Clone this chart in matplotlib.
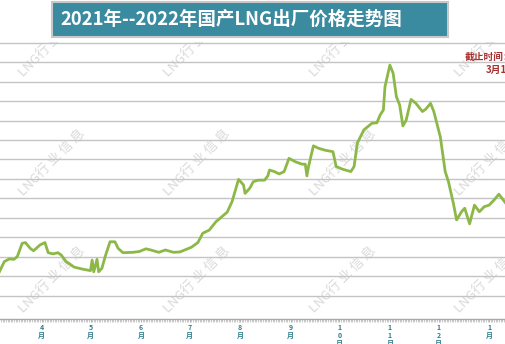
import numpy as np
import matplotlib
matplotlib.use("Agg")
import matplotlib.pyplot as plt
import matplotlib.dates as mdates
from matplotlib.patches import Rectangle

plt.rcParams['font.family'] = ['Noto Sans CJK SC', 'DejaVu Sans']

# LNG ex-factory price (yuan/ton)
dates = ["2021-03-06", "2021-03-09", "2021-03-12", "2021-03-15", "2021-03-17", "2021-03-20",
         "2021-03-22", "2021-03-25", "2021-03-27", "2021-03-31", "2021-04-03", "2021-04-05",
         "2021-04-08", "2021-04-11", "2021-04-13", "2021-04-16", "2021-04-21", "2021-04-26",
         "2021-05-01", "2021-05-02", "2021-05-03", "2021-05-05", "2021-05-06", "2021-05-08",
         "2021-05-10", "2021-05-13", "2021-05-16", "2021-05-18", "2021-05-21", "2021-05-27",
         "2021-05-31", "2021-06-04", "2021-06-07", "2021-06-12", "2021-06-16", "2021-06-21",
         "2021-06-25", "2021-07-02", "2021-07-06", "2021-07-09", "2021-07-13", "2021-07-17",
         "2021-07-24", "2021-07-27", "2021-07-31", "2021-08-03", "2021-08-04", "2021-08-07",
         "2021-08-09", "2021-08-12", "2021-08-16", "2021-08-18", "2021-08-19", "2021-08-22",
         "2021-08-25", "2021-08-28", "2021-08-31", "2021-09-04", "2021-09-08", "2021-09-10",
         "2021-09-11", "2021-09-12", "2021-09-15", "2021-09-18", "2021-09-22", "2021-09-27",
         "2021-09-29", "2021-10-03", "2021-10-08", "2021-10-10", "2021-10-12", "2021-10-16",
         "2021-10-21", "2021-10-24", "2021-10-26", "2021-10-28", "2021-10-29", "2021-11-01",
         "2021-11-03", "2021-11-05", "2021-11-07", "2021-11-09", "2021-11-11", "2021-11-14",
         "2021-11-17", "2021-11-21", "2021-11-23", "2021-11-26", "2021-11-28", "2021-12-02",
         "2021-12-05", "2021-12-07", "2021-12-10", "2021-12-12", "2021-12-15", "2021-12-17",
         "2021-12-20", "2021-12-23", "2021-12-26", "2021-12-29", "2022-01-01", "2022-01-04",
         "2022-01-07", "2022-01-11"]
prices = [3620, 3880, 3950, 3940, 4010, 4350,
          4370, 4220, 4160, 4310, 4370, 4110,
          4080, 4110, 4050, 3880, 3740, 3690,
          3650, 3920, 3620, 3940, 3620, 3710,
          4010, 4390, 4390, 4220, 4110, 4120,
          4140, 4210, 4180, 4120, 4180, 4120,
          4130, 4250, 4370, 4610, 4690, 4900,
          5150, 5420, 5990, 5850, 5630, 5770,
          5930, 5970, 5970, 6080, 6230, 6190,
          6130, 6190, 6530, 6440, 6380, 6380,
          6080, 6320, 6850, 6790, 6740, 6700,
          6320, 6250, 6190, 6320, 6920, 7260,
          7430, 7440, 7640, 7770, 8370, 8920,
          8710, 8110, 7900, 7360, 7510, 8040,
          7940, 7730, 7790, 7940, 7730, 7080,
          6190, 5930, 5380, 4950, 5160, 5250,
          4850, 5330, 5160, 5290, 5330, 5460,
          5610, 5390]
grid_levels = np.arange(3000, 10000, 500)

title = "2021年--2022年国产LNG出厂价格走势图"
watermark = "LNG行 业 信 息"

x = np.array(dates, dtype="datetime64[D]")

fig = plt.figure(figsize=(5.05, 3.44), dpi=100)
ax = fig.add_axes([0, 25 / 344, 1, 277 / 344])

# watermarks behind everything
for wy in [300, 181, 64]:
    for wx in [52, 197, 343, 488]:
        ax.text(wx / 505, wy / 344, watermark, transform=fig.transFigure, rotation=45,
                ha='center', va='center', fontsize=9.5, color='#d9d9d9', zorder=0.2,
                clip_on=True)

for g in grid_levels:
    ax.axhline(g, color='#c4c4c4', linewidth=1, zorder=1)

ax.plot(x, prices, color='#8cb847', linewidth=2.0, solid_joinstyle='round', zorder=3)

ax.set_xlim(np.datetime64("2021-03-06T09:00"), np.datetime64("2022-01-10T18:00"))
ax.set_ylim(2410, 9513)
ax.set_yticks([])

for s in ['top', 'left', 'right']:
    ax.spines[s].set_visible(False)
ax.spines['bottom'].set_color('#a8a8a8')
ax.spines['bottom'].set_linewidth(1)

ax.xaxis.set_major_locator(mdates.MonthLocator())
ax.xaxis.set_minor_locator(mdates.DayLocator())
ax.xaxis.set_major_formatter(plt.FuncFormatter(
    lambda v, pos: "\n".join(list(str(mdates.num2date(v).month)) + ["月"])))
ax.tick_params(axis='x', which='major', length=2.5, width=0.6, color='#a8a8a8',
               labelsize=5, labelcolor='#2f7f8f', pad=1)
ax.tick_params(axis='x', which='minor', length=2, width=0.5, color='#b4b4b4')
for lbl in ax.get_xticklabels():
    lbl.set_linespacing(1.15)
    lbl.set_fontweight('bold')

# title box
fig.patches.append(Rectangle((52 / 505, 1 - 37 / 344), 396 / 505, 35 / 344,
                             transform=fig.transFigure, facecolor='#3a8aa0',
                             edgecolor='#c8c8c8', linewidth=1.5, zorder=5))
fig.text(60 / 505, 1 - 19 / 344, title, ha='left', va='center', fontsize=13.3,
         fontweight='bold', color='white', zorder=6)

# cut-off note on the right
fig.text(465 / 505, 1 - 57 / 344, "截止时间：", ha='left', va='center', fontsize=7,
         fontweight='bold', color='#a83030')
fig.text(486 / 505, 1 - 70 / 344, "3月1日", ha='left', va='center', fontsize=7,
         fontweight='bold', color='#a83030')

fig.savefig("out.png", dpi=100)
